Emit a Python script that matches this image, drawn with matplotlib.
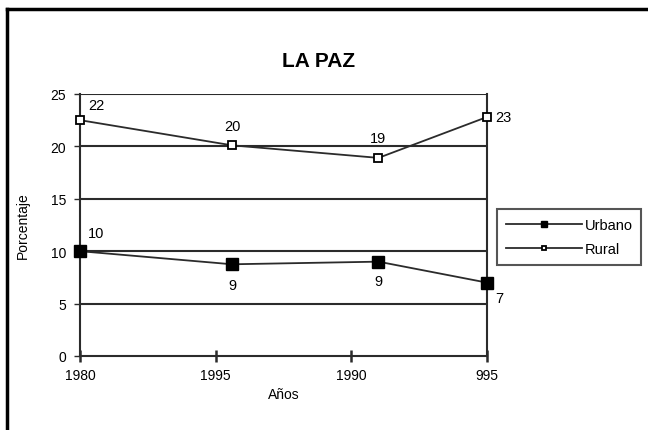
import matplotlib.pyplot as plt
import numpy as np

plt.rcParams['font.family'] = ['Liberation Sans', 'DejaVu Sans']

# data
x_ticks = [0, 1, 2, 3]
x_labels = ['1980', '1995', '1990', '995']
x_pos = [0, 1.12, 2.2, 3]
urbano = [10, 8.75, 9.0, 7.0]
rural = [22.5, 20.1, 18.9, 22.8]
urbano_lbl = ['10', '9', '9', '7']
rural_lbl = ['22', '20', '19', '23']

fig = plt.figure(figsize=(6.48, 4.31), dpi=100)
ax = fig.add_axes([0.1235, 0.1717, 0.628, 0.608])

col = '#2b2b2b'
ax.set_xlim(0, 3)
ax.set_ylim(0, 25)
ax.set_yticks(np.arange(0, 26, 5))
ax.set_xticks(x_ticks)
ax.set_xticklabels(x_labels)

for yv in range(5, 26, 5):
    ax.axhline(yv, color=col, lw=1.5, zorder=1)

ax.plot(x_pos, urbano, color=col, lw=1.3, marker='s', ms=9, mfc='black', mec='black',
        label='Urbano', zorder=3, clip_on=False)
ax.plot(x_pos, rural, color=col, lw=1.3, marker='s', ms=5.5, mfc='white', mec='black',
        mew=1.3, label='Rural', zorder=3, clip_on=False)

# point labels
r_off = [(6, 6), (0, 9), (0, 9), (6, 0)]
r_ha = ['left', 'center', 'center', 'left']
for xi, yi, t, o, h in zip(x_pos, rural, rural_lbl, r_off, r_ha):
    ax.annotate(t, (xi, yi), xytext=o, textcoords='offset points', ha=h,
                va='bottom' if o[1] > 0 else 'center', fontsize=10.5)
u_off = [(6, 8), (0, -10), (0, -9), (6, -6)]
u_ha = ['left', 'center', 'center', 'left']
for xi, yi, t, o, h in zip(x_pos, urbano, urbano_lbl, u_off, u_ha):
    ax.annotate(t, (xi, yi), xytext=o, textcoords='offset points', ha=h,
                va='bottom' if o[1] > 0 else 'top', fontsize=10.5)

for s in ['left', 'bottom', 'right', 'top']:
    ax.spines[s].set_color(col)
    ax.spines[s].set_linewidth(1.5)
ax.spines['top'].set_visible(False)

ax.tick_params(axis='x', direction='inout', length=8, width=1.8, colors=col,
               labelcolor='black', labelsize=10, pad=5)
ax.tick_params(axis='y', direction='out', length=4, width=1, colors=col,
               labelcolor='black', labelsize=10, pad=6)
ax.set_xticks(x_ticks)

ax.set_xlabel('Años', fontsize=10, labelpad=3)
ax.set_ylabel('Porcentaje', fontsize=10, labelpad=15)

fig.text(0.491, 0.857, 'LA PAZ', ha='center', va='center', fontsize=15,
         fontweight='bold')

leg = ax.legend(loc='center left', bbox_to_anchor=(1.025, 0.454), frameon=True,
                fancybox=False, edgecolor=col, fontsize=10.5, handlelength=5.2,
                borderpad=0.6, labelspacing=0.7, handletextpad=0.2,
                borderaxespad=0, markerscale=0.5)
leg.get_frame().set_linewidth(1.5)

# figure border (left and top)
fig.add_artist(plt.Line2D([0.011, 0.011], [0, 0.977], color='black', lw=2.5,
                          transform=fig.transFigure))
fig.add_artist(plt.Line2D([0.011, 1], [0.977, 0.977], color='black', lw=2.5,
                          transform=fig.transFigure))

fig.savefig('out.png', dpi=100)
